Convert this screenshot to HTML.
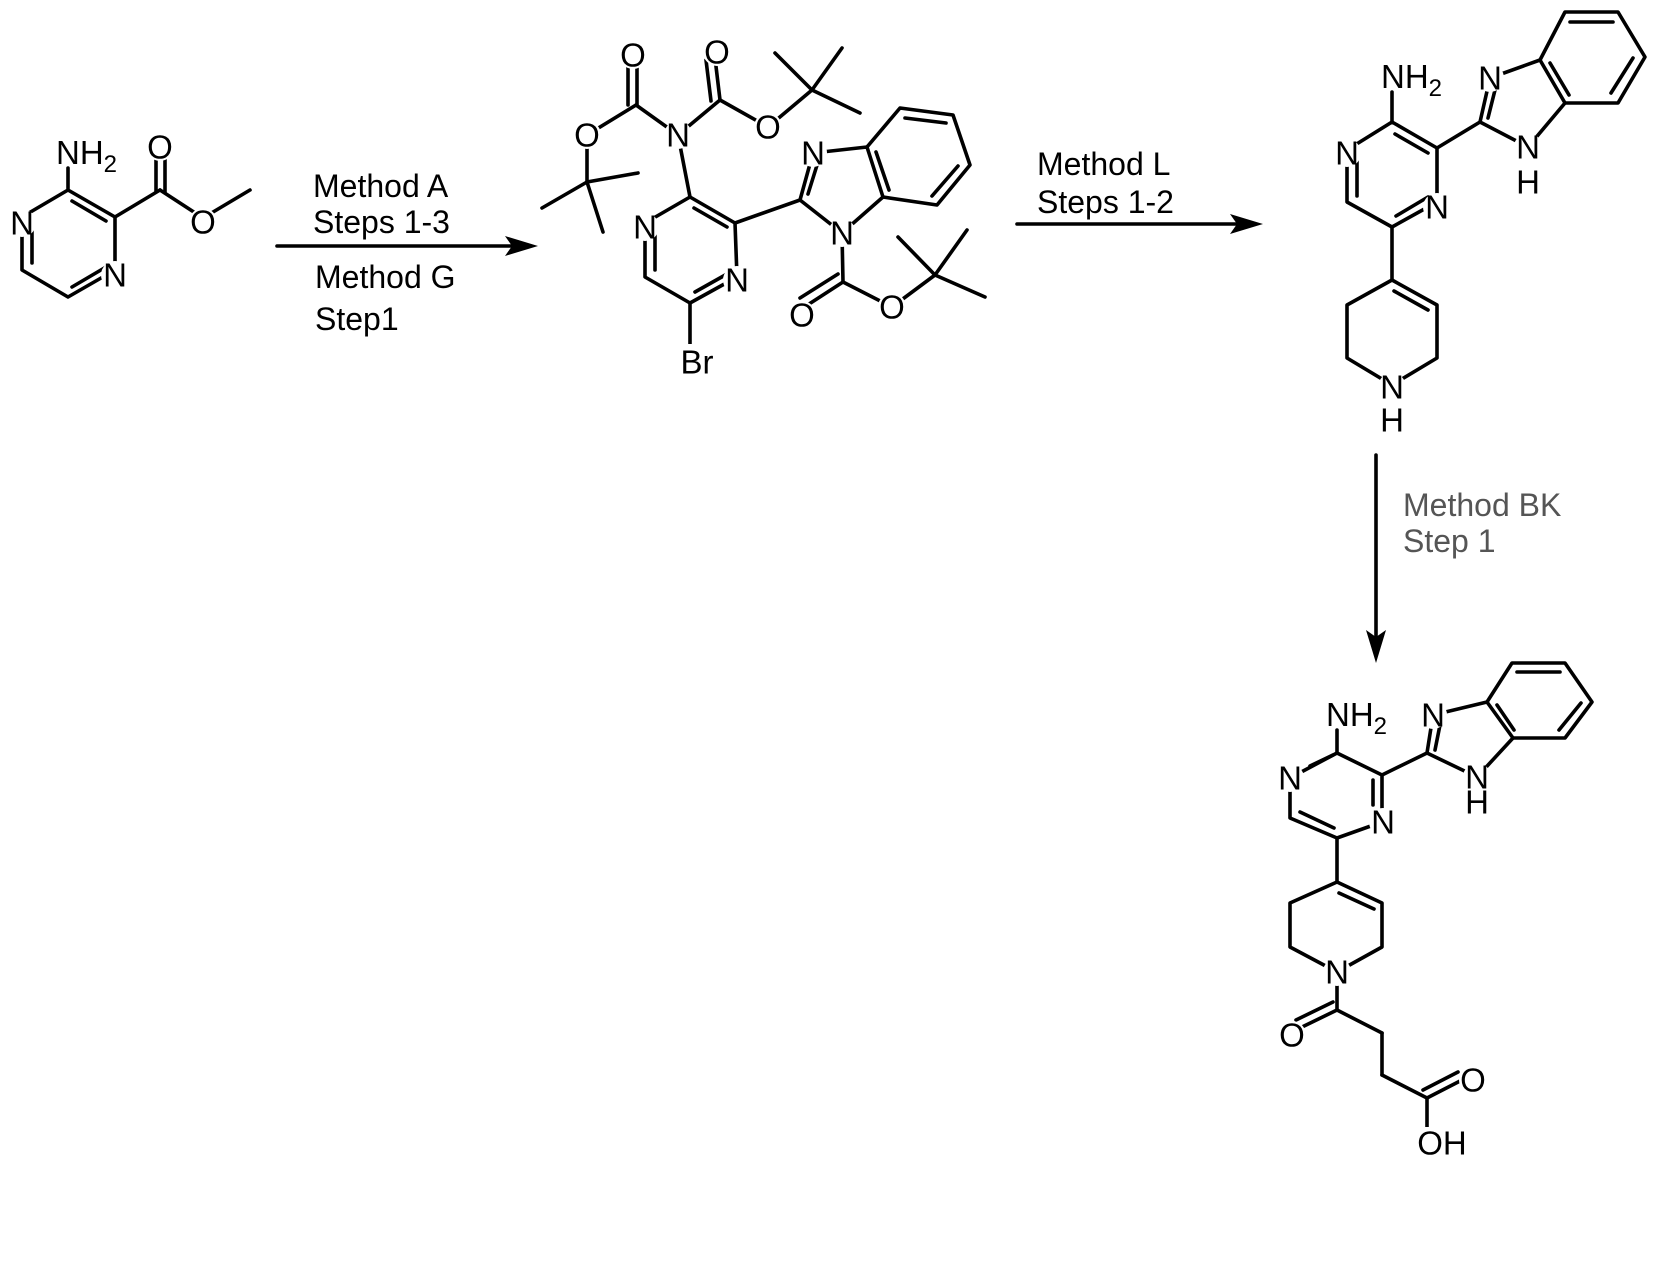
<!DOCTYPE html>
<html><head><meta charset="utf-8"><style>
html,body{margin:0;padding:0;background:#fff;}
svg{display:block;}
text{font-family:"Liberation Sans",sans-serif;fill:#000;}
.a{font-size:33px;text-anchor:middle;dominant-baseline:central;}
.r{font-size:32px;}
</style></head><body>
<svg width="1657" height="1281" viewBox="0 0 1657 1281" xmlns="http://www.w3.org/2000/svg">
<g stroke="#000" stroke-width="3.6" fill="none" stroke-linecap="round" stroke-linejoin="round">
<!-- Structure 1 -->
<polyline points="68,168 68,190 115,217 115,270 68,297 22,270 22,217 68,190"/>
<line x1="72" y1="201" x2="106" y2="221"/>
<line x1="32" y1="225" x2="32" y2="263"/>
<line x1="72" y1="287" x2="106" y2="267"/>
<line x1="115" y1="217" x2="160" y2="190"/>
<line x1="156" y1="192" x2="156" y2="158"/>
<line x1="165" y1="192" x2="165" y2="158"/>
<line x1="160" y1="190" x2="203" y2="218"/>
<line x1="203" y1="218" x2="250" y2="190"/>
<!-- Arrow 1 -->
<line x1="277" y1="246" x2="520" y2="246"/>
<!-- Structure 2 -->
<polyline points="690,197 735,223 737,277 690,303 645,277 645,223 690,197"/>
<line x1="694" y1="208" x2="727" y2="227"/>
<line x1="655" y1="233" x2="655" y2="270"/>
<line x1="695" y1="292" x2="727" y2="274"/>
<line x1="690" y1="303" x2="690" y2="345"/>
<line x1="690" y1="197" x2="678" y2="135"/>
<line x1="678" y1="135" x2="636" y2="105"/>
<line x1="637" y1="105" x2="637" y2="62"/>
<line x1="628" y1="105" x2="628" y2="62"/>
<line x1="636" y1="105" x2="587" y2="135"/>
<line x1="587" y1="135" x2="587" y2="182"/>
<line x1="587" y1="182" x2="638" y2="173"/>
<line x1="587" y1="182" x2="542" y2="208"/>
<line x1="587" y1="182" x2="603" y2="232"/>
<line x1="678" y1="135" x2="720" y2="100"/>
<line x1="720" y1="100" x2="715" y2="58"/>
<line x1="711" y1="101" x2="706" y2="60"/>
<line x1="720" y1="100" x2="768" y2="127"/>
<line x1="768" y1="127" x2="812" y2="90"/>
<line x1="812" y1="90" x2="775" y2="53"/>
<line x1="812" y1="90" x2="842" y2="48"/>
<line x1="812" y1="90" x2="860" y2="113"/>
<line x1="735" y1="223" x2="800" y2="200"/>
<polyline points="800,200 813,153 867,147 883,197 842,233 800,200"/>
<line x1="808" y1="194" x2="818" y2="162"/>
<polyline points="867,147 900,108 953,115 970,165 937,205 883,197"/>
<line x1="905" y1="118" x2="946" y2="123"/>
<line x1="958" y1="166" x2="932" y2="196"/>
<line x1="876" y1="152" x2="889" y2="190"/>
<line x1="842" y1="233" x2="843" y2="282"/>
<line x1="843" y1="282" x2="806" y2="306"/>
<line x1="838" y1="274" x2="800" y2="298"/>
<line x1="843" y1="282" x2="892" y2="307"/>
<line x1="892" y1="307" x2="935" y2="275"/>
<line x1="935" y1="275" x2="898" y2="237"/>
<line x1="935" y1="275" x2="967" y2="230"/>
<line x1="935" y1="275" x2="985" y2="297"/>
<!-- Arrow 2 -->
<line x1="1017" y1="224" x2="1245" y2="224"/>
<!-- Structure 3 -->
<line x1="1392" y1="92" x2="1392" y2="122"/>
<polyline points="1392,122 1437,148 1437,202 1392,227 1347,202 1347,150 1392,122"/>
<line x1="1395" y1="134" x2="1428" y2="153"/>
<line x1="1357" y1="160" x2="1357" y2="196"/>
<line x1="1396" y1="216" x2="1428" y2="197"/>
<line x1="1437" y1="148" x2="1480" y2="122"/>
<polyline points="1480,122 1490,78 1540,60 1565,103 1528,147 1480,122"/>
<line x1="1488" y1="118" x2="1496" y2="86"/>
<polyline points="1540,60 1565,12 1618,12 1645,57 1618,103 1565,103"/>
<line x1="1570" y1="22" x2="1613" y2="22"/>
<line x1="1633" y1="58" x2="1611" y2="93"/>
<line x1="1550" y1="63" x2="1569" y2="95"/>
<line x1="1392" y1="227" x2="1392" y2="280"/>
<polyline points="1392,280 1437,305 1437,358 1392,385 1347,358 1347,305 1392,280"/>
<line x1="1394" y1="291" x2="1428" y2="310"/>
<!-- Arrow 3 -->
<line x1="1376" y1="455" x2="1376" y2="640"/>
<!-- Structure 4 -->
<line x1="1337" y1="730" x2="1337" y2="753"/>
<polyline points="1337,753 1382,775 1382,822 1337,838 1290,818 1290,778 1337,753"/>
<line x1="1310" y1="766" x2="1333" y2="755"/>
<line x1="1373" y1="780" x2="1373" y2="805"/>
<line x1="1300" y1="812" x2="1334" y2="828"/>
<line x1="1382" y1="775" x2="1427" y2="753"/>
<polyline points="1427,753 1433,715 1487,702 1513,738 1477,777 1427,753"/>
<line x1="1435" y1="750" x2="1440" y2="725"/>
<polyline points="1487,702 1512,663 1565,663 1592,702 1565,738 1513,738"/>
<line x1="1517" y1="672" x2="1560" y2="672"/>
<line x1="1581" y1="703" x2="1559" y2="730"/>
<line x1="1497" y1="705" x2="1514" y2="730"/>
<line x1="1337" y1="838" x2="1337" y2="882"/>
<polyline points="1337,882 1382,903 1382,947 1337,972 1290,947 1290,903 1337,882"/>
<line x1="1339" y1="893" x2="1374" y2="909"/>
<line x1="1337" y1="972" x2="1337" y2="1010"/>
<line x1="1337" y1="1010" x2="1300" y2="1028"/>
<line x1="1333" y1="1002" x2="1296" y2="1020"/>
<line x1="1337" y1="1010" x2="1382" y2="1033"/>
<line x1="1382" y1="1033" x2="1382" y2="1075"/>
<line x1="1382" y1="1075" x2="1427" y2="1098"/>
<line x1="1427" y1="1098" x2="1462" y2="1080"/>
<line x1="1423" y1="1090" x2="1458" y2="1072"/>
<line x1="1427" y1="1098" x2="1427" y2="1130"/>
</g>
<!-- label backgrounds -->
<g fill="#fff">
<circle cx="115" cy="275" r="14"/><circle cx="22" cy="223" r="14"/><circle cx="160" cy="147" r="14"/><circle cx="203" cy="222" r="14"/>
<circle cx="678" cy="135" r="14"/><circle cx="633" cy="55" r="14"/><circle cx="587" cy="135" r="14"/><circle cx="717" cy="52" r="14"/><circle cx="768" cy="127" r="14"/>
<circle cx="645" cy="227" r="14"/><circle cx="737" cy="280" r="14"/><rect x="676" y="344" width="44" height="36"/><circle cx="813" cy="153" r="14"/><circle cx="842" cy="233" r="14"/><circle cx="802" cy="315" r="14"/><circle cx="892" cy="307" r="14"/>
<circle cx="1347" cy="153" r="14"/><circle cx="1437" cy="207" r="14"/><circle cx="1490" cy="78" r="14"/><circle cx="1528" cy="147" r="14"/><circle cx="1392" cy="387" r="14"/>
<circle cx="1290" cy="778" r="14"/><circle cx="1383" cy="822" r="14"/><circle cx="1433" cy="715" r="14"/><circle cx="1477" cy="777" r="14"/><circle cx="1337" cy="972" r="14"/><circle cx="1292" cy="1035" r="14"/><circle cx="1473" cy="1080" r="14"/><rect x="1418" y="1127" width="48" height="34"/>
</g>
<!-- arrowheads -->
<polygon points="538,246 505,236 512,246 505,256" fill="#000"/>
<polygon points="1263,224 1230,214 1237,224 1230,234" fill="#000"/>
<polygon points="1376,663 1366,630 1376,637 1386,630" fill="#000"/>
<!-- labels structure 1 -->
<text x="56" y="164" style="font-size:33px">NH<tspan font-size="24" dy="8">2</tspan></text>
<text class="a" x="115" y="275">N</text>
<text class="a" x="22" y="223">N</text>
<text class="a" x="160" y="147">O</text>
<text class="a" x="203" y="222">O</text>
<!-- reaction text -->
<text class="r" x="313" y="197">Method A</text>
<text class="r" x="313" y="233">Steps 1-3</text>
<text class="r" x="315" y="288">Method G</text>
<text class="r" x="315" y="330">Step1</text>
<text class="r" x="1037" y="175">Method L</text>
<text class="r" x="1037" y="213">Steps 1-2</text>
<text class="r" x="1403" y="516" style="fill:#555">Method BK</text>
<text class="r" x="1403" y="552" style="fill:#555">Step 1</text>
<!-- labels structure 2 -->
<text class="a" x="678" y="135">N</text>
<text class="a" x="633" y="55">O</text>
<text class="a" x="587" y="135">O</text>
<text class="a" x="717" y="52">O</text>
<text class="a" x="768" y="127">O</text>
<text class="a" x="645" y="227">N</text>
<text class="a" x="737" y="280">N</text>
<text class="a" x="697" y="362">Br</text>
<text class="a" x="813" y="153">N</text>
<text class="a" x="842" y="233">N</text>
<text class="a" x="802" y="315">O</text>
<text class="a" x="892" y="307">O</text>
<!-- labels structure 3 -->
<text x="1381" y="88" style="font-size:33px">NH<tspan font-size="24" dy="8">2</tspan></text>
<text class="a" x="1347" y="153">N</text>
<text class="a" x="1437" y="207">N</text>
<text class="a" x="1490" y="78">N</text>
<text class="a" x="1528" y="147">N</text>
<text class="a" x="1528" y="182">H</text>
<text class="a" x="1392" y="387">N</text>
<text class="a" x="1392" y="420">H</text>
<!-- labels structure 4 -->
<text x="1326" y="726" style="font-size:33px">NH<tspan font-size="24" dy="8">2</tspan></text>
<text class="a" x="1290" y="778">N</text>
<text class="a" x="1383" y="822">N</text>
<text class="a" x="1433" y="715">N</text>
<text class="a" x="1477" y="777">N</text>
<text class="a" x="1477" y="802">H</text>
<text class="a" x="1337" y="972">N</text>
<text class="a" x="1292" y="1035">O</text>
<text class="a" x="1473" y="1080">O</text>
<text class="a" x="1442" y="1143">OH</text>
</svg>
</body></html>
